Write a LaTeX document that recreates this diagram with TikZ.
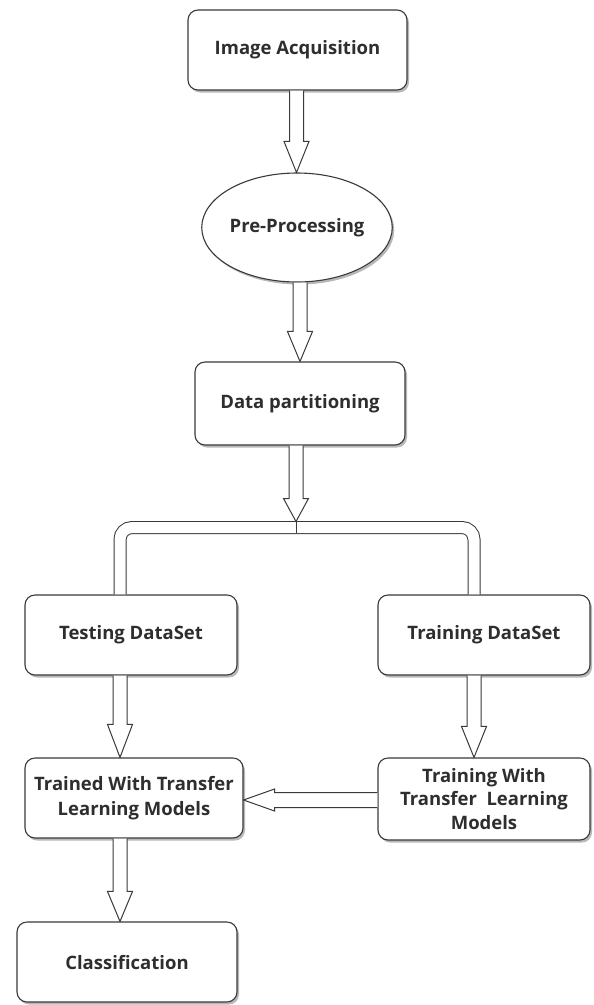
\documentclass[tikz,border=0pt]{standalone}
\usepackage{fontspec}
\setmainfont{Open Sans}
\usetikzlibrary{calc,shapes.geometric,shadows}
\definecolor{linec}{HTML}{3A3A3A}
\definecolor{textc}{HTML}{2E2E2E}
\tikzset{
  boxshadow/.style={drop shadow={shadow xshift=2pt,shadow yshift=-2.5pt,opacity=0.28,fill=black}},
  box/.style={draw=linec, line width=1.1pt, rounded corners=10pt, fill=white,
    align=center, font=\fontsize{18.5}{25}\selectfont\bfseries, text=textc,
    inner sep=1pt, boxshadow},
  ellbox/.style={box, ellipse, rounded corners=0pt},
  blockarr/.style={draw=linec, line width=1pt, fill=white, line join=miter},
  split/.style={draw=linec, line width=1pt, double=white, double distance=11pt, rounded corners=12pt}
}
% vertical hollow block arrow: #1 start of shaft, #2 target (only its y is used), #3 head length
\newcommand{\blockdown}[3]{%
  \draw[blockarr] let \p1=(#1), \p2=(#2) in
    (\x1-7pt,\y1) -- (\x1-7pt,\y2+#3) -- (\x1-12.5pt,\y2+#3) -- (\x1,\y2)
    -- (\x1+12.5pt,\y2+#3) -- (\x1+7pt,\y2+#3) -- (\x1+7pt,\y1);}
% horizontal hollow block arrow pointing left
\newcommand{\blockleft}[3]{%
  \draw[blockarr] let \p1=(#1), \p2=(#2) in
    (\x1,\y1+7.5pt) -- (\x2+#3,\y1+7.5pt) -- (\x2+#3,\y1+11pt) -- (\x2,\y1)
    -- (\x2+#3,\y1-11pt) -- (\x2+#3,\y1-7.5pt) -- (\x1,\y1-7.5pt);}
\begin{document}
\begin{tikzpicture}[x=1pt,y=-1pt]
  \fill[white] (0,0) rectangle (594,1005);
  \useasboundingbox (0,0) rectangle (594,1005);

  \node[box, minimum width=219pt, minimum height=80pt] (ia) at (297.5,50) {Image Acquisition};
  \node[ellbox, minimum width=190pt, minimum height=109pt, inner sep=0pt] (pp) at (297,227.5) {Pre-Processing};
  \node[box, minimum width=210pt, minimum height=83pt] (dp) at (300,403.5) {Data partitioning};
  \node[box, minimum width=212pt, minimum height=80pt] (test) at (131,635) {Testing DataSet};
  \node[box, minimum width=212pt, minimum height=80pt] (train) at (484,635) {Training DataSet};
  \node[box, minimum width=218pt, minimum height=80pt] (trained) at (134,798) {Trained With Transfer\\Learning Models};
  \node[box, minimum width=212pt, minimum height=82pt, font=\fontsize{18.5}{23.5}\selectfont\bfseries] (trainw) at (484,799) {Training With\\Transfer\ \ Learning\\Models};
  \node[box, minimum width=220pt, minimum height=80pt] (cls) at (127,962) {Classification};

  \coordinate (splitc) at (296,527.5);

  % split connector (hollow)
  \draw[split] ($(test.north)+(-11,0)$) |- (splitc) -| ($(train.north)+(-10,0)$);

  % block arrows
  \blockdown{$(ia.south)+(-1,0)$}{pp.north}{31pt}
  \blockdown{$(pp.south)+(3,0)$}{dp.north}{30pt}
  \blockdown{$(dp.south)+(-4,0)$}{$(splitc)+(0,-6)$}{23pt}
  \draw[draw=linec, line width=1pt] ($(splitc)+(0,-6)$) -- ($(splitc)+(0,5.5)$);
  \blockdown{$(test.south)+(-11,0)$}{trained.north}{33pt}
  \blockdown{$(train.south)+(-10,0)$}{trainw.north}{31pt}
  \blockdown{$(trained.south)+(-14,0)$}{cls.north}{30pt}
  \blockleft{$(trainw.west)+(0,1)$}{trained.east}{31pt}
\end{tikzpicture}
\end{document}
